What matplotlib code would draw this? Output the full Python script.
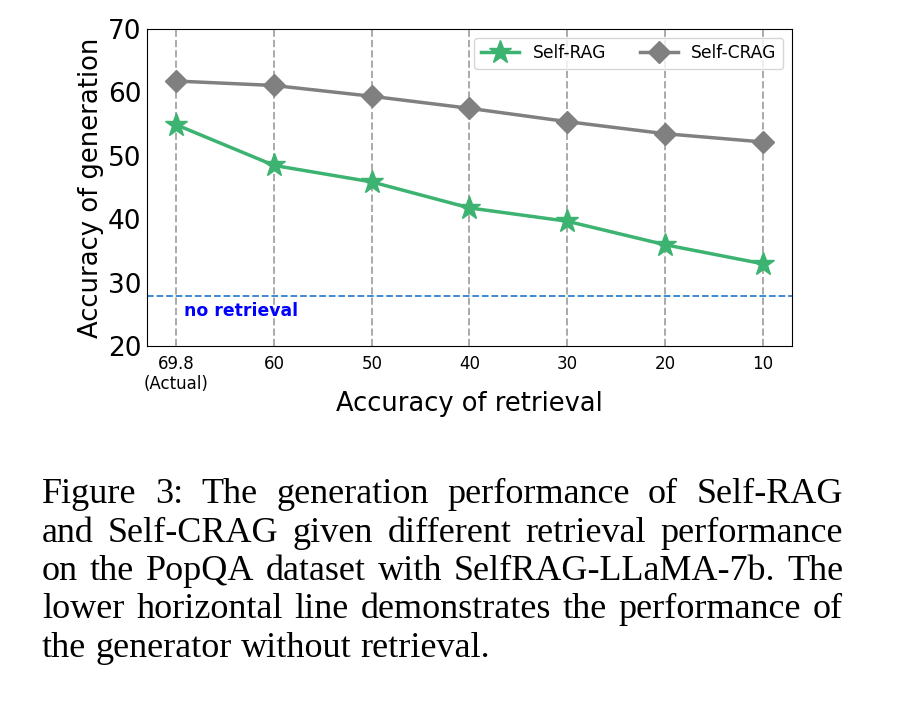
import matplotlib
matplotlib.use("Agg")
import matplotlib.pyplot as plt

# data
retrieval_acc = ["69.8\n(Actual)", "60", "50", "40", "30", "20", "10"]
self_rag = [54.9, 48.5, 45.9, 41.8, 39.7, 36.0, 33.0]
self_crag = [61.8, 61.1, 59.4, 57.5, 55.4, 53.5, 52.2]
no_retrieval = 27.9

caption_lines = [
    "Figure 3:  The generation performance of Self-RAG",
    "and Self-CRAG given different retrieval performance",
    "on the PopQA dataset with SelfRAG-LLaMA-7b. The",
    "lower horizontal line demonstrates the performance of",
    "the generator without retrieval.",
]

fig = plt.figure(figsize=(9.02, 7.08), dpi=100)
ax = fig.add_axes([0.163, 0.511, 0.715, 0.448])

xs = list(range(len(retrieval_acc)))
ax.plot(xs, self_rag, color="#3cb371", marker="*", markersize=17, linewidth=2.5, label="Self-RAG")
ax.plot(xs, self_crag, color="#808080", marker="D", markersize=11, linewidth=2.5, label="Self-CRAG")
ax.axhline(no_retrieval, color="#2f7fce", linestyle="--", linewidth=1.3)
ax.text(0.08, no_retrieval - 1.0, "no retrieval", color="blue", fontsize=12.4,
        fontweight="bold", va="top", ha="left")

ax.set_xlim(-0.3, 6.3)
ax.set_ylim(20, 70)
ax.set_xticks(xs)
ax.set_xticklabels(retrieval_acc, fontsize=12)
ax.set_yticks([20, 30, 40, 50, 60, 70])
ax.tick_params(axis="y", labelsize=19, length=0, pad=4)
ax.tick_params(axis="x", length=0, pad=6)
ax.xaxis.grid(True, linestyle="--", color="#aaaaaa", linewidth=1.4)
ax.set_xlabel("Accuracy of retrieval", fontsize=18.5, labelpad=-2)
ax.set_ylabel("Accuracy of generation", fontsize=18.6, labelpad=3)
ax.legend(loc="upper right", ncol=2, fontsize=12.3, handlelength=2.2,
          columnspacing=2.0, borderpad=0.4, markerscale=1.0)

# caption, justified by spreading the words over the line width
cap_size = 26
renderer = fig.canvas.get_renderer()
x_left, x_right = 42 / 902, 843 / 902
for i, line in enumerate(caption_lines):
    y = 1 - (503 + i * 38.5) / 708
    words = [w for w in line.split(" ") if w]
    texts = [fig.text(0, y, w, fontsize=cap_size, family="Liberation Serif", va="baseline")
             for w in words]
    widths = [t.get_window_extent(renderer).width / fig.bbox.width for t in texts]
    if i == len(caption_lines) - 1:
        gap = fig.text(0, 0, "a a", fontsize=cap_size, family="Liberation Serif")
        g = gap.get_window_extent(renderer).width / fig.bbox.width
        gap.remove()
        a = fig.text(0, 0, "aa", fontsize=cap_size, family="Liberation Serif")
        g -= a.get_window_extent(renderer).width / fig.bbox.width
        a.remove()
    else:
        g = (x_right - x_left - sum(widths)) / (len(words) - 1)
    x = x_left
    for t, w in zip(texts, widths):
        t.set_x(x)
        x += w + g

fig.savefig("out.png", dpi=100)
